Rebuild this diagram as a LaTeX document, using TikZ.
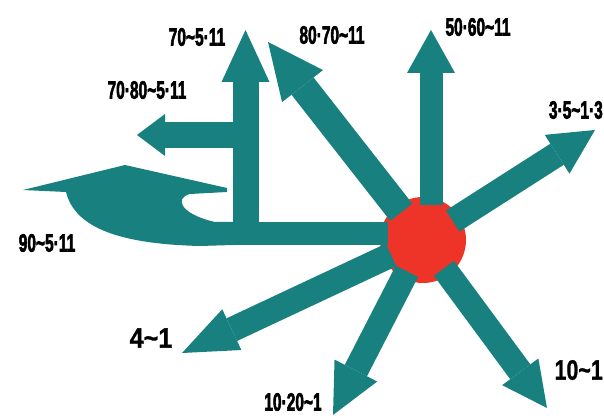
\documentclass[tikz,border=0pt]{standalone}
\usepackage{fontspec}
\setmainfont{Liberation Sans}
\newfontfamily\heavy{Liberation Sans}[UprightFeatures={FakeBold=3},BoldFeatures={FakeBold=3}]
\newfontfamily\bigheavy{Liberation Sans}[BoldFeatures={FakeBold=1}]
\usepackage{graphicx}
\usetikzlibrary{arrows.meta,positioning}
\definecolor{flow}{RGB}{24,128,126}
\definecolor{hubred}{RGB}{238,52,40}
\newcommand{\lbltext}[1]{\scalebox{0.62}[1]{\fontsize{25}{25}\heavy\bfseries #1}}
\newcommand{\biglbl}[1]{\scalebox{0.9}[1]{\fontsize{28}{28}\bigheavy\bfseries #1}}
\tikzset{
  >=Stealth,
  hub/.style={circle,fill=hubred,inner sep=0pt,minimum size=86pt},
  branch/.style n args={3}{draw=flow,line width=#1,-{Triangle[length=#2,width=#3,line width=0pt]}},
  spoke/.style n args={3}{branch={#1}{#2}{#3},shorten <=-8pt},
  bar/.style={draw=flow,line width=23pt,shorten <=-8pt},
  lbl/.style={inner sep=0pt}
}
\begin{document}
\begin{tikzpicture}[x=1pt,y=-1pt]
    \useasboundingbox (0,0) rectangle (604,419);

    % Hub
    \node[hub] (hub) at (423,240) {};

    % Arrow tips and corners
    \coordinate (t70) at (245.5,30);
    \coordinate (t7080) at (137,135);
    \coordinate (t8070) at (268,42);
    \coordinate (t5060) at (431,30);
    \coordinate (t35) at (595,130);
    \coordinate (t41) at (182,353);
    \coordinate (t1020) at (333,415);
    \coordinate (t101) at (547,408);
    \coordinate (knee) at (245.5,245);
    \coordinate (fork) at (245.5,135);
    \coordinate (bend) at (230,233.5);

    % Swoosh to the left
    \fill[flow] (23,190) -- (125,165) -- (227,188) -- (227,192) -- (190,194)
        .. controls (174,198) and (180,214) .. (215,222) -- (233,222) -- (233,245) -- (200,246)
        .. controls (120,244) and (75,228) .. (66,192) -- cycle;
    \draw[bar] (hub.west |- bend) -- (bend);

    % Up arrow and its side branch
    \draw[branch={26pt}{52pt}{48pt}] (knee) -- (t70);
    \draw[branch={26pt}{28pt}{42pt}] (fork) -- (t7080);

    % Spokes out of the hub
    \draw[spoke={28pt}{56pt}{52pt}] (hub) -- (t8070);
    \draw[spoke={23pt}{43pt}{48pt}] (hub.north -| t5060) -- (t5060);
    \draw[spoke={25pt}{45pt}{46pt}] (hub) -- (t35);
    \draw[spoke={25pt}{55pt}{45pt}] (hub) -- (t41);
    \draw[spoke={25pt}{50pt}{48pt}] (hub) -- (t1020);
    \draw[spoke={25pt}{45pt}{45pt}] (hub) -- (t101);

    % Labels
    \node[lbl] (l70) at (197,37) {\lbltext{70\textasciitilde5·11}};
    \node[lbl] (l8070) at (332,35) {\lbltext{80·70\textasciitilde11}};
    \node[lbl] (l5060) at (478,27) {\lbltext{50·60\textasciitilde11}};
    \node[lbl] (l7080) at (147,90) {\lbltext{70·80\textasciitilde5·11}};
    \node[lbl] (l90) at (47,243) {\lbltext{90\textasciitilde5·11}};
    \node[lbl,anchor=east] (l35) at (603,110) {\lbltext{3·5\textasciitilde1·3}};
    \node[lbl] (l41) at (151,338) {\biglbl{4\textasciitilde1}};
    \node[lbl] (l1020) at (293,402) {\lbltext{10·20\textasciitilde1}};
    \node[lbl,anchor=east] (l101) at (603,370) {\scalebox{0.85}[1]{\biglbl{10\textasciitilde1}}};

\end{tikzpicture}
\end{document}
